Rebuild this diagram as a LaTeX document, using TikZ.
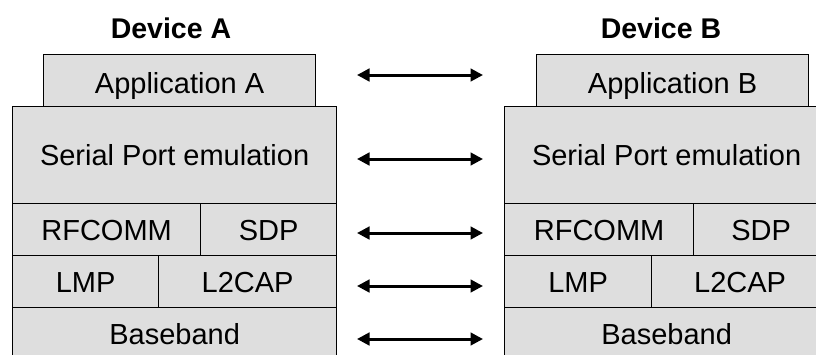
\documentclass[tikz,border=0pt]{standalone}
\usepackage{fontspec}
\setmainfont{Liberation Sans}
\usetikzlibrary{arrows.meta}
\begin{document}
\begin{tikzpicture}[x=1pt,y=-1pt,
  layer/.style={draw=black, line width=1.2pt, fill=black!13, inner sep=0pt,
    anchor=north west, font=\fontsize{29}{34}\selectfont,
    text height=20.8pt, text depth=0pt},
  title/.style={font=\fontsize{28.5}{34}\selectfont\bfseries, inner sep=0pt,
    text height=20.4pt, text depth=0pt},
  peer/.style={arrows={Triangle[length=12.5pt,width=12.5pt]-Triangle[length=12.5pt,width=12.5pt]},
    line width=3pt}]
\useasboundingbox (0,0) rectangle (816,354);
\clip (0,0) rectangle (816,354);

% device A stack
\node[title] (ta) at (171,28) {Device A};
\node[layer, minimum width=272pt, minimum height=52pt] (appA) at (43,54) {\raisebox{-2.5pt}{Application A}};
\node[layer, minimum width=324pt, minimum height=97pt] (serA) at (12,106) {Serial Port emulation};
\node[layer, minimum width=188pt, minimum height=52pt] (rfA) at (12,203) {RFCOMM};
\node[layer, minimum width=136pt, minimum height=52pt] (sdpA) at (200,203) {SDP};
\node[layer, minimum width=146pt, minimum height=52pt] (lmpA) at (12,255) {LMP};
\node[layer, minimum width=178pt, minimum height=52pt] (l2A) at (158,255) {L2CAP};
\node[layer, minimum width=324pt, minimum height=52pt] (bbA) at (12,307) {Baseband};

% device B stack
\node[title] (tb) at (661,28) {Device B};
\node[layer, minimum width=272pt, minimum height=52pt] (appB) at (536,54) {\raisebox{-2.5pt}{Application B}};
\node[layer, minimum width=324pt, minimum height=97pt] (serB) at (504,106) {Serial Port emulation};
\node[layer, minimum width=189pt, minimum height=52pt] (rfB) at (504,203) {RFCOMM};
\node[layer, minimum width=135pt, minimum height=52pt] (sdpB) at (693,203) {SDP};
\node[layer, minimum width=147pt, minimum height=52pt] (lmpB) at (504,255) {LMP};
\node[layer, minimum width=177pt, minimum height=52pt] (l2B) at (651,255) {L2CAP};
\node[layer, minimum width=324pt, minimum height=52pt] (bbB) at (504,307) {Baseband};

% peer-to-peer links between matching layers
\coordinate (a1) at (357,75);  \coordinate (b1) at (483,75);
\coordinate (a2) at (357,159); \coordinate (b2) at (483,159);
\coordinate (a3) at (357,233); \coordinate (b3) at (483,233);
\coordinate (a4) at (357,286); \coordinate (b4) at (483,286);
\coordinate (a5) at (357,339); \coordinate (b5) at (483,339);
\foreach \i in {1,...,5} \draw[peer] (a\i) -- (b\i);
\end{tikzpicture}
\end{document}
